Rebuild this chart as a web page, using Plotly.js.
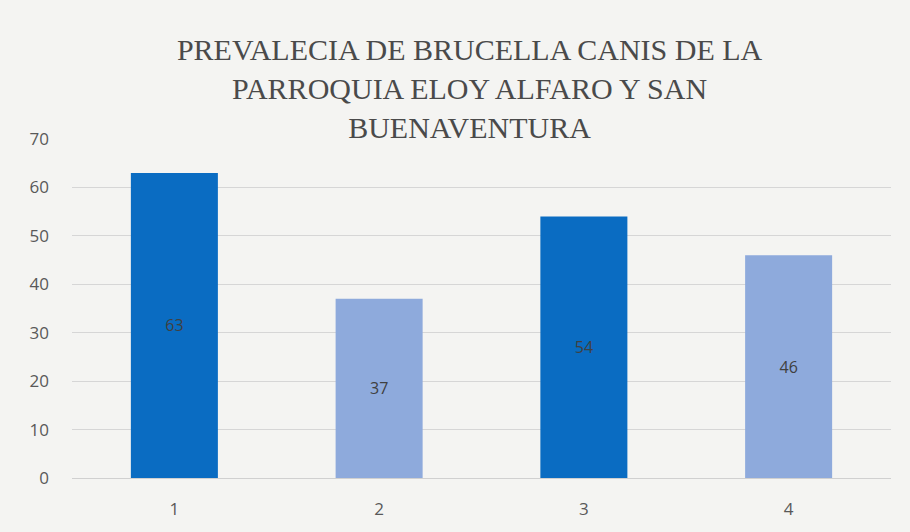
<!DOCTYPE html>
<html>
<head>
<meta charset="utf-8">
<script src="https://cdn.plot.ly/plotly-3.0.1.min.js"></script>
<style>html,body{margin:0;padding:0;background:#f4f4f2;}</style>
</head>
<body>
<div id="chart" style="width:910px;height:532px;"></div>
<script>
const categories = ["1", "2", "3", "4"];
const values = [63, 37, 54, 46];
const barColors = ["#0a6cc2", "#8eaadc", "#0a6cc2", "#8eaadc"];
const yTicks = [0, 10, 20, 30, 40, 50, 60, 70];
const titleText = "PREVALECIA DE BRUCELLA CANIS DE LA<br>PARROQUIA ELOY ALFARO Y SAN<br>BUENAVENTURA";

const trace = {
  type: "bar",
  x: categories,
  y: values,
  marker: {color: barColors},
  text: values.map(String),
  textposition: "inside",
  insidetextanchor: "middle",
  textfont: {family: "Open Sans, sans-serif", size: 16, color: "#404040"},
  hoverinfo: "x+y"
};

const layout = {
  width: 910,
  height: 532,
  paper_bgcolor: "#f4f4f2",
  plot_bgcolor: "#f4f4f2",
  margin: {l: 72, r: 19, t: 139, b: 54},
  title: {
    text: titleText,
    font: {family: "Liberation Serif, Times New Roman, serif", size: 30, color: "#4a4a4a"},
    x: 0.516,
    xanchor: "center",
    y: 0.887,
    yanchor: "top",
    yref: "container"
  },
  bargap: 0.575,
  showlegend: false,
  xaxis: {
    type: "category",
    tickfont: {family: "Open Sans, sans-serif", size: 17, color: "#595959"},
    showgrid: false,
    showline: true,
    linecolor: "#d0d0d0",
    ticks: "",
    ticklabelstandoff: 16
  },
  yaxis: {
    range: [0, 70],
    tickvals: yTicks,
    tickfont: {family: "Open Sans, sans-serif", size: 17, color: "#595959"},
    gridcolor: "#d6d6d6",
    gridwidth: 1,
    zeroline: false,
    showline: false,
    ticks: "",
    ticklabelstandoff: 22
  }
};

Plotly.newPlot("chart", [trace], layout, {displayModeBar: false, staticPlot: true});
</script>
</body>
</html>
